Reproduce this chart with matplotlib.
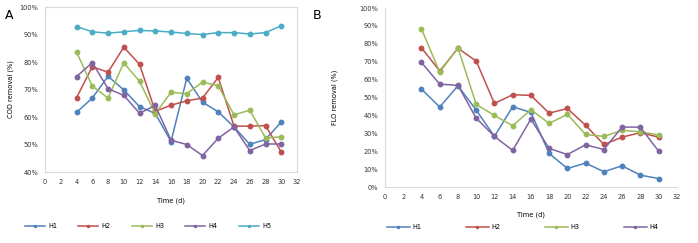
import matplotlib
matplotlib.use("Agg")
import matplotlib.pyplot as plt
from matplotlib.lines import Line2D
from matplotlib.ticker import FuncFormatter

days = [4, 6, 8, 10, 12, 14, 16, 18, 20, 22, 24, 26, 28, 30]

cod_H1 = [61.7, 66.9, 74.8, 69.9, 63.8, 61.3, 51.1, 74.1, 65.4, 61.9, 56.4, 50.1, 51.8, 58.2]
cod_H2 = [67.0, 78.3, 76.3, 85.4, 79.2, 62.1, 64.3, 65.9, 66.9, 74.4, 56.7, 56.7, 56.9, 47.3]
cod_H3 = [83.6, 71.3, 66.9, 79.7, 73.0, 61.2, 69.0, 68.5, 72.7, 71.4, 60.8, 62.5, 52.4, 52.8]
cod_H4 = [74.7, 79.8, 70.3, 67.9, 61.4, 64.2, 51.6, 50.0, 46.0, 52.3, 56.4, 47.8, 50.2, 50.2]
cod_H5 = [92.9, 91.0, 90.5, 91.0, 91.5, 91.3, 90.9, 90.4, 90.0, 90.7, 90.7, 90.2, 90.7, 93.2]

flo_H1 = [54.7, 44.7, 56.6, 43.0, 28.3, 44.9, 41.7, 18.8, 10.4, 13.4, 8.6, 11.9, 6.7, 4.8]
flo_H2 = [77.8, 64.8, 77.5, 70.4, 46.7, 51.6, 51.2, 41.3, 43.9, 34.5, 23.8, 27.9, 30.4, 27.9]
flo_H3 = [88.3, 64.2, 77.8, 46.2, 40.0, 34.3, 43.2, 35.6, 40.6, 29.4, 28.3, 31.7, 30.9, 29.1]
flo_H4 = [69.6, 57.5, 56.8, 38.5, 28.3, 20.5, 38.0, 21.6, 18.2, 23.6, 21.0, 33.5, 33.5, 20.1]

series_names = ["H1", "H2", "H3", "H4", "H5"]
colors = ["#4F81BD", "#C0504D", "#9BBB59", "#8064A2", "#4BACC6"]

fig = plt.figure(figsize=(6.98, 2.43), dpi=100)
fs = 4.8
spine_c = "#D9D9D9"
pct = FuncFormatter(lambda v, p: f"{int(round(v))}%")

def style(ax, full_box):
    ax.set_xlim(0, 32)
    ax.set_xticks(range(0, 33, 2))
    for s in ax.spines.values():
        s.set_color(spine_c)
        s.set_linewidth(0.8)
    if not full_box:
        ax.spines["top"].set_visible(False)
        ax.spines["right"].set_visible(False)
    ax.tick_params(length=0, labelsize=fs, colors="#333333", pad=5)
    ax.yaxis.set_major_formatter(pct)

axA = fig.add_axes([0.0645, 0.292, 0.361, 0.679])
for name, c, vals in zip(series_names, colors, [cod_H1, cod_H2, cod_H3, cod_H4, cod_H5]):
    axA.plot(days, vals, color=c, lw=1.1, marker="o", ms=3.2, label=name)
axA.set_ylim(40, 100)
axA.set_yticks(range(40, 101, 10))
style(axA, True)
axA.set_xlabel("Time (d)", fontsize=fs, labelpad=9)
axA.set_ylabel("COD removal (%)", fontsize=fs, labelpad=4)

axB = fig.add_axes([0.5516, 0.230, 0.418, 0.737])
for name, c, vals in zip(series_names[:4], colors[:4], [flo_H1, flo_H2, flo_H3, flo_H4]):
    axB.plot(days, vals, color=c, lw=1.1, marker="o", ms=3.2, label=name)
axB.set_ylim(0, 100)
axB.set_yticks(range(0, 101, 10))
style(axB, False)
axB.set_xlabel("Time (d)", fontsize=fs, labelpad=8)
axB.set_ylabel("FLO removal (%)", fontsize=fs, labelpad=15)

def leg_handles(cols):
    return [Line2D([], [], color=c, lw=1.1, marker="o", ms=1.5) for c in cols]

fig.legend(leg_handles(colors), series_names, loc="center left",
           bbox_to_anchor=(25 / 698, 1 - 226 / 243), ncol=5, frameon=False,
           fontsize=fs, handlelength=3.0, handletextpad=0.5, columnspacing=3.15,
           borderaxespad=0, borderpad=0)
fig.legend(leg_handles(colors[:4]), series_names[:4], loc="center left",
           bbox_to_anchor=(387 / 698, 1 - 227 / 243), ncol=4, frameon=False,
           fontsize=fs, handlelength=3.4, handletextpad=0.4, columnspacing=6.7,
           borderaxespad=0, borderpad=0)

fig.text(5 / 698, 1 - 15 / 243, "A", fontsize=9, va="center", ha="left")
fig.text(313 / 698, 1 - 15 / 243, "B", fontsize=9, va="center", ha="left")

fig.savefig("out.png", dpi=100, facecolor="white")
